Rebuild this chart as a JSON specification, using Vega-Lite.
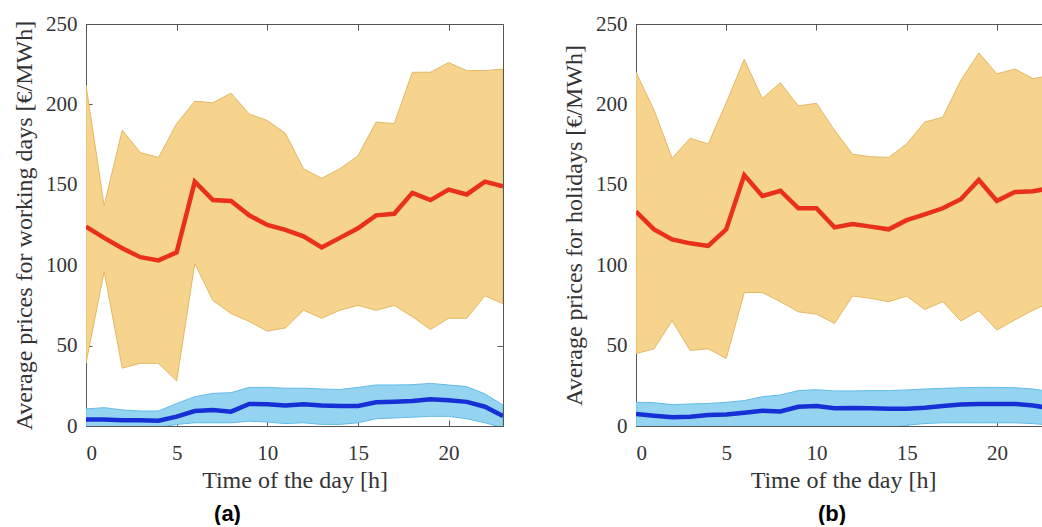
{
  "$schema": "https://vega.github.io/schema/vega-lite/v6.json",
  "background": "white",
  "padding": {"left": 12, "top": 13, "right": 0, "bottom": 0},
  "bounds": "flush",
  "spacing": 133,
  "datasets": {
    "prices": [
      {"panel": "a", "hour": 0, "lo": 39, "hi": 212, "mean": 124, "blo": -2, "bhi": 10.6, "bmean": 4},
      {"panel": "a", "hour": 1, "lo": 96, "hi": 137, "mean": 117, "blo": -2, "bhi": 11.4, "bmean": 4},
      {"panel": "a", "hour": 2, "lo": 36, "hi": 184, "mean": 110.5, "blo": -2, "bhi": 10, "bmean": 3.5},
      {"panel": "a", "hour": 3, "lo": 39, "hi": 170, "mean": 105, "blo": -2, "bhi": 9.3, "bmean": 3.5},
      {"panel": "a", "hour": 4, "lo": 39, "hi": 167, "mean": 103, "blo": -1, "bhi": 9.3, "bmean": 3.3},
      {"panel": "a", "hour": 5, "lo": 28, "hi": 188, "mean": 108, "blo": 1, "bhi": 14, "bmean": 5.8},
      {"panel": "a", "hour": 6, "lo": 101, "hi": 202, "mean": 152, "blo": 2, "bhi": 18.2, "bmean": 9.3},
      {"panel": "a", "hour": 7, "lo": 78, "hi": 201, "mean": 140.5, "blo": 2, "bhi": 20.3, "bmean": 10},
      {"panel": "a", "hour": 8, "lo": 70, "hi": 207, "mean": 140, "blo": 2, "bhi": 20.7, "bmean": 8.9},
      {"panel": "a", "hour": 9, "lo": 65, "hi": 194, "mean": 131, "blo": 3, "bhi": 24, "bmean": 13.7},
      {"panel": "a", "hour": 10, "lo": 59, "hi": 190, "mean": 125, "blo": 2.5, "bhi": 24, "bmean": 13.5},
      {"panel": "a", "hour": 11, "lo": 61, "hi": 182, "mean": 122, "blo": 1.5, "bhi": 23.5, "bmean": 12.8},
      {"panel": "a", "hour": 12, "lo": 72, "hi": 160, "mean": 118, "blo": 2, "bhi": 23.5, "bmean": 13.5},
      {"panel": "a", "hour": 13, "lo": 67, "hi": 154, "mean": 111, "blo": 1, "bhi": 23, "bmean": 12.8},
      {"panel": "a", "hour": 14, "lo": 72, "hi": 160, "mean": 117, "blo": 1, "bhi": 22.7, "bmean": 12.4},
      {"panel": "a", "hour": 15, "lo": 75, "hi": 168, "mean": 123, "blo": 2, "bhi": 24, "bmean": 12.4},
      {"panel": "a", "hour": 16, "lo": 72, "hi": 189, "mean": 131, "blo": 4.5, "bhi": 25.5, "bmean": 14.7},
      {"panel": "a", "hour": 17, "lo": 75, "hi": 188, "mean": 132, "blo": 5, "bhi": 25.5, "bmean": 15.1},
      {"panel": "a", "hour": 18, "lo": 68, "hi": 220, "mean": 145, "blo": 5.5, "bhi": 25.7, "bmean": 15.5},
      {"panel": "a", "hour": 19, "lo": 60, "hi": 220, "mean": 140.5, "blo": 6, "bhi": 26.5, "bmean": 16.6},
      {"panel": "a", "hour": 20, "lo": 67, "hi": 226, "mean": 147, "blo": 6, "bhi": 25.5, "bmean": 16},
      {"panel": "a", "hour": 21, "lo": 67, "hi": 221, "mean": 144, "blo": 4.5, "bhi": 24.5, "bmean": 15},
      {"panel": "a", "hour": 22, "lo": 81, "hi": 221, "mean": 152, "blo": 2, "bhi": 20, "bmean": 12},
      {"panel": "a", "hour": 23, "lo": 76, "hi": 222, "mean": 149, "blo": -1, "bhi": 13, "bmean": 6.2},
      {"panel": "b", "hour": 0, "lo": 45, "hi": 220, "mean": 133.3, "blo": -1, "bhi": 14.7, "bmean": 7.5},
      {"panel": "b", "hour": 1, "lo": 48, "hi": 196.5, "mean": 122.3, "blo": -1, "bhi": 14.5, "bmean": 6.4},
      {"panel": "b", "hour": 2, "lo": 65.5, "hi": 166.5, "mean": 116, "blo": -1, "bhi": 13.3, "bmean": 5.4},
      {"panel": "b", "hour": 3, "lo": 47, "hi": 179, "mean": 113.6, "blo": -1, "bhi": 13.7, "bmean": 5.8},
      {"panel": "b", "hour": 4, "lo": 48, "hi": 175.4, "mean": 112, "blo": -1, "bhi": 14, "bmean": 6.8},
      {"panel": "b", "hour": 5, "lo": 42, "hi": 201, "mean": 122.3, "blo": -1, "bhi": 14.7, "bmean": 7.2},
      {"panel": "b", "hour": 6, "lo": 83, "hi": 228, "mean": 156, "blo": -1, "bhi": 15.8, "bmean": 8.3},
      {"panel": "b", "hour": 7, "lo": 83, "hi": 203.7, "mean": 143, "blo": -1, "bhi": 18.2, "bmean": 9.5},
      {"panel": "b", "hour": 8, "lo": 77.3, "hi": 213.5, "mean": 146.3, "blo": -1, "bhi": 19.3, "bmean": 9},
      {"panel": "b", "hour": 9, "lo": 71, "hi": 199, "mean": 135.4, "blo": -1, "bhi": 22, "bmean": 12},
      {"panel": "b", "hour": 10, "lo": 69.6, "hi": 200.7, "mean": 135.4, "blo": -1, "bhi": 22.6, "bmean": 12.5},
      {"panel": "b", "hour": 11, "lo": 63.8, "hi": 184, "mean": 123.5, "blo": -1, "bhi": 21.8, "bmean": 11},
      {"panel": "b", "hour": 12, "lo": 80.8, "hi": 169, "mean": 125.6, "blo": -1, "bhi": 21.8, "bmean": 11.2},
      {"panel": "b", "hour": 13, "lo": 79.4, "hi": 167.5, "mean": 124, "blo": -1, "bhi": 22, "bmean": 11},
      {"panel": "b", "hour": 14, "lo": 77.3, "hi": 167, "mean": 122.3, "blo": -1, "bhi": 22, "bmean": 10.8},
      {"panel": "b", "hour": 15, "lo": 80.8, "hi": 175.4, "mean": 128, "blo": 0.5, "bhi": 22.4, "bmean": 10.8},
      {"panel": "b", "hour": 16, "lo": 72.5, "hi": 189, "mean": 131.6, "blo": 1.5, "bhi": 23, "bmean": 11.4},
      {"panel": "b", "hour": 17, "lo": 77.3, "hi": 192, "mean": 135.4, "blo": 2, "bhi": 23.4, "bmean": 12.4},
      {"panel": "b", "hour": 18, "lo": 65.3, "hi": 215, "mean": 141, "blo": 2, "bhi": 23.8, "bmean": 13.3},
      {"panel": "b", "hour": 19, "lo": 71.7, "hi": 232, "mean": 153, "blo": 2, "bhi": 24, "bmean": 13.7},
      {"panel": "b", "hour": 20, "lo": 59.7, "hi": 219, "mean": 140, "blo": 2, "bhi": 24, "bmean": 13.7},
      {"panel": "b", "hour": 21, "lo": 66, "hi": 222, "mean": 145.5, "blo": 2, "bhi": 23.8, "bmean": 13.7},
      {"panel": "b", "hour": 22, "lo": 72, "hi": 216, "mean": 146, "blo": 1.5, "bhi": 23, "bmean": 12.8},
      {"panel": "b", "hour": 23, "lo": 77, "hi": 218, "mean": 148, "blo": 0.5, "bhi": 21.3, "bmean": 11}
    ]
  },
  "hconcat": [
    {
      "width": 417,
      "height": 402,
      "view": {"stroke": null},
      "data": {"name": "prices"},
      "transform": [{"filter": "datum.panel === 'a'"}],
      "title": {"text": "(a)", "orient": "bottom", "anchor": "middle", "frame": "group", "dx": -67, "offset": 12, "font": "Liberation Sans", "fontWeight": "bold", "fontSize": 22, "color": "#000000"},
      "layer": [
        {
          "mark": {"type": "area", "fill": "#F6D48D", "stroke": "#E2B864", "strokeWidth": 1, "clip": true},
          "encoding": {
            "x": {"field": "hour", "type": "quantitative", "scale": {"domain": [0, 23], "nice": false}, "axis": {"orient": "bottom", "title": "Time of the day [h]", "values": [0, 5, 10, 15, 20]}},
            "y": {"field": "hi", "type": "quantitative", "scale": {"domain": [0, 250], "nice": false}, "axis": {"orient": "left", "title": "Average prices for working days [€/MWh]", "values": [0, 50, 100, 150, 200, 250]}},
            "y2": {"field": "lo"}
          }
        },
        {
          "mark": {"type": "line", "color": "#E8301A", "strokeWidth": 4.5, "clip": true},
          "encoding": {
            "x": {"field": "hour", "type": "quantitative", "axis": {"orient": "top", "labels": false, "title": null, "values": [0, 5, 10, 15, 20]}},
            "y": {"field": "mean", "type": "quantitative", "axis": {"orient": "right", "labels": false, "title": null, "values": [0, 50, 100, 150, 200, 250]}}
          }
        },
        {
          "mark": {"type": "area", "fill": "#95D4F1", "stroke": "#62BBE8", "strokeWidth": 1, "clip": true},
          "encoding": {
            "x": {"field": "hour", "type": "quantitative", "axis": null},
            "y": {"field": "bhi", "type": "quantitative", "axis": null},
            "y2": {"field": "blo"}
          }
        },
        {
          "mark": {"type": "line", "color": "#1730D6", "strokeWidth": 4.5, "clip": true},
          "encoding": {
            "x": {"field": "hour", "type": "quantitative", "axis": null},
            "y": {"field": "bmean", "type": "quantitative", "axis": null}
          }
        }
      ],
      "resolve": {"axis": {"x": "independent", "y": "independent"}}
    },
    {
      "width": 406,
      "height": 402,
      "view": {"stroke": null},
      "data": {"name": "prices"},
      "transform": [{"filter": "datum.panel === 'b'"}],
      "title": {"text": "(b)", "orient": "bottom", "anchor": "middle", "frame": "group", "dx": -7, "offset": 12, "font": "Liberation Sans", "fontWeight": "bold", "fontSize": 22, "color": "#000000"},
      "layer": [
        {
          "mark": {"type": "area", "fill": "#F6D48D", "stroke": "#E2B864", "strokeWidth": 1, "clip": true},
          "encoding": {
            "x": {"field": "hour", "type": "quantitative", "scale": {"domain": [0, 22.5], "nice": false}, "axis": {"orient": "bottom", "title": "Time of the day [h]", "values": [0, 5, 10, 15, 20], "titleX": 207}},
            "y": {"field": "hi", "type": "quantitative", "scale": {"domain": [0, 250], "nice": false}, "axis": {"orient": "left", "title": "Average prices for holidays [€/MWh]", "values": [0, 50, 100, 150, 200, 250]}},
            "y2": {"field": "lo"}
          }
        },
        {
          "mark": {"type": "line", "color": "#E8301A", "strokeWidth": 4.5, "clip": true},
          "encoding": {
            "x": {"field": "hour", "type": "quantitative", "axis": {"orient": "top", "labels": false, "title": null, "values": [0, 5, 10, 15, 20]}},
            "y": {"field": "mean", "type": "quantitative", "axis": null}
          }
        },
        {
          "mark": {"type": "area", "fill": "#95D4F1", "stroke": "#62BBE8", "strokeWidth": 1, "clip": true},
          "encoding": {
            "x": {"field": "hour", "type": "quantitative", "axis": null},
            "y": {"field": "bhi", "type": "quantitative", "axis": null},
            "y2": {"field": "blo"}
          }
        },
        {
          "mark": {"type": "line", "color": "#1730D6", "strokeWidth": 4.5, "clip": true},
          "encoding": {
            "x": {"field": "hour", "type": "quantitative", "axis": null},
            "y": {"field": "bmean", "type": "quantitative", "axis": null}
          }
        }
      ],
      "resolve": {"axis": {"x": "independent", "y": "independent"}}
    }
  ],
  "config": {
    "font": "Liberation Serif",
    "axis": {
      "labelFont": "Liberation Serif",
      "titleFont": "Liberation Serif",
      "labelFontSize": 21,
      "titleFontSize": 24,
      "titleFontWeight": "normal",
      "labelColor": "#333333",
      "titleColor": "#333333",
      "tickColor": "#555555",
      "domain": true,
      "domainColor": "#555555",
      "domainWidth": 1,
      "grid": false,
      "zindex": 1,
      "tickSize": -6,
      "labelPadding": 15,
      "titlePadding": 6
    },
    "axisX": {"labelPadding": 22, "titlePadding": 5},
    "axisY": {"titlePadding": 9},
    "view": {"stroke": null}
  }
}
